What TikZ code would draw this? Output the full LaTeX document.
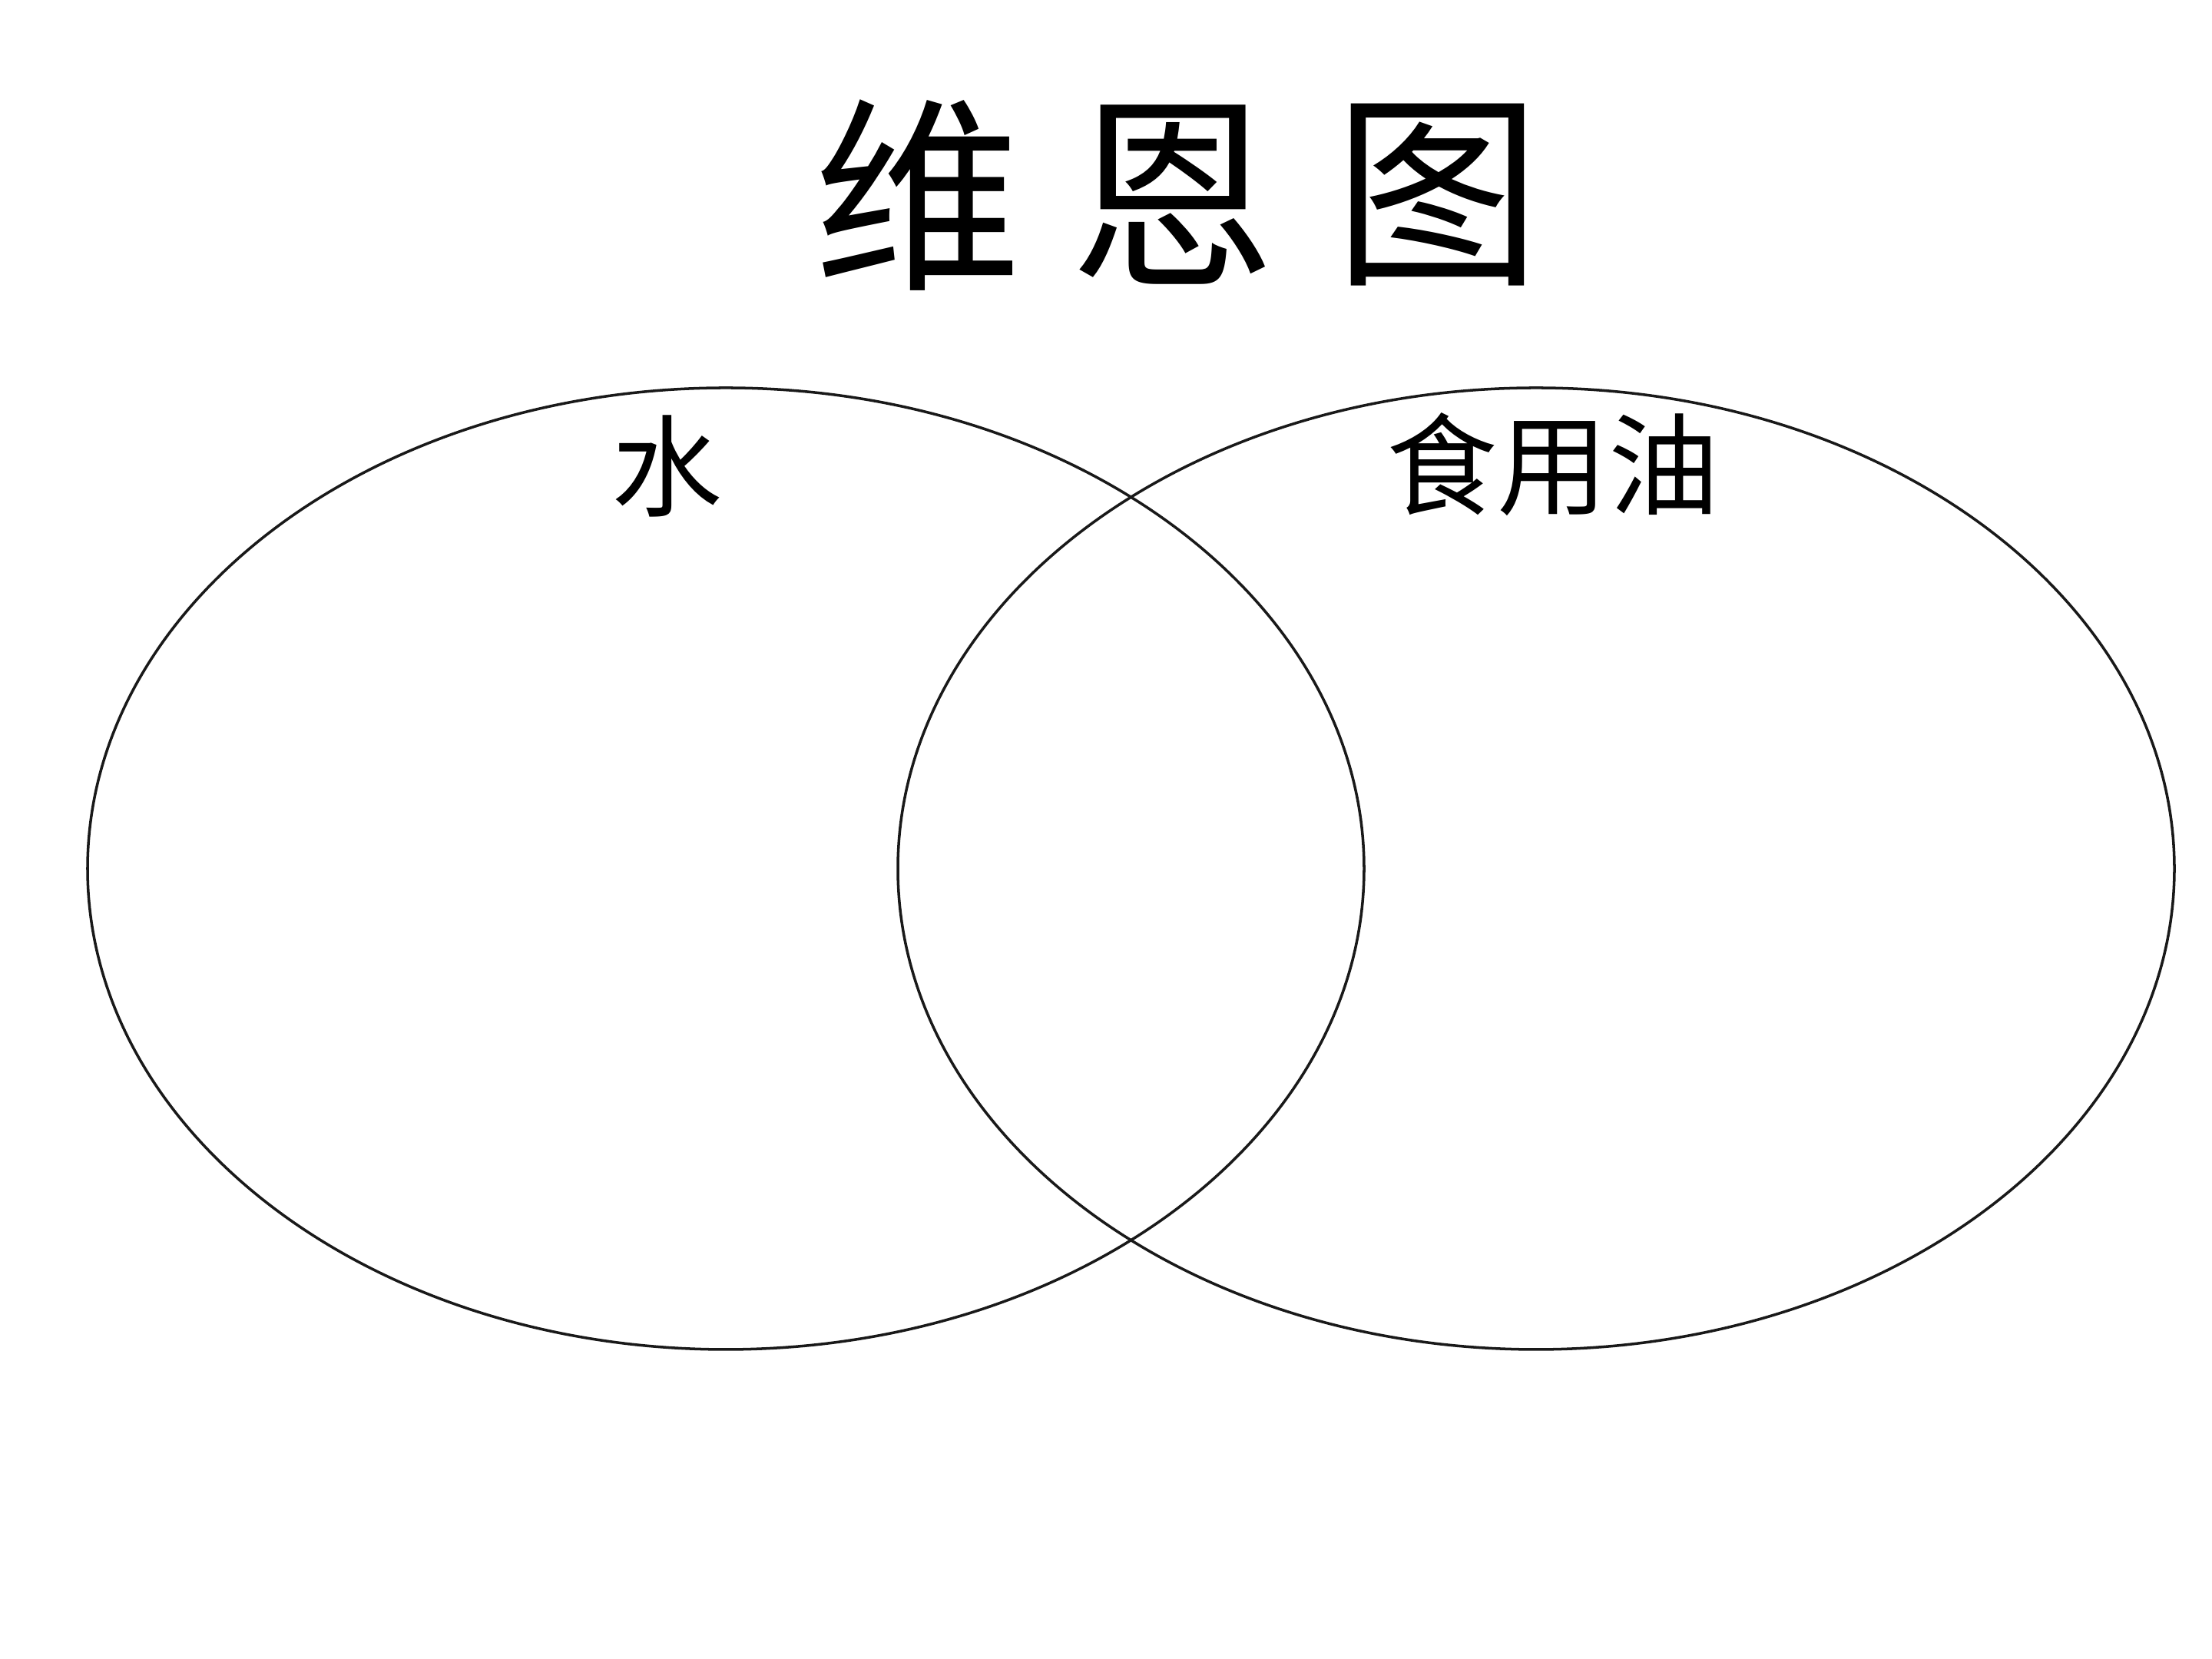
\documentclass[tikz,border=0pt]{standalone}
\usepackage{fontspec}
\newfontfamily\cjk{Noto Sans CJK SC}
\definecolor{LineClr}{rgb}{0.1,0.1,0.1}

\begin{document}
\begin{tikzpicture}[
  setring/.style={draw=LineClr,line width=1pt},
  titlechar/.style={font=\cjk\fontsize{77}{77}\selectfont,inner sep=0pt},
  setlabel/.style={font=\cjk\fontsize{41}{41}\selectfont,inner sep=0pt}]
\useasboundingbox (0,0) rectangle (28.8,21.6);

% the two sets
\draw[setring] (9.45,10.29) ellipse [x radius=8.31,y radius=6.26];
\draw[setring] (20.0,10.29) ellipse [x radius=8.31,y radius=6.26];

% title
\node[titlechar] (t1) at (11.95,19.06) {维};
\node[titlechar] (t2) at (15.27,19.06) {恩};
\node[titlechar] (t3) at (18.72,19.06) {图};

% set names
\node[setlabel] (water) at (8.69,15.53) {水};
\node[setlabel] (oil) at (20.22,15.55) {食用油};

\end{tikzpicture}
\end{document}
